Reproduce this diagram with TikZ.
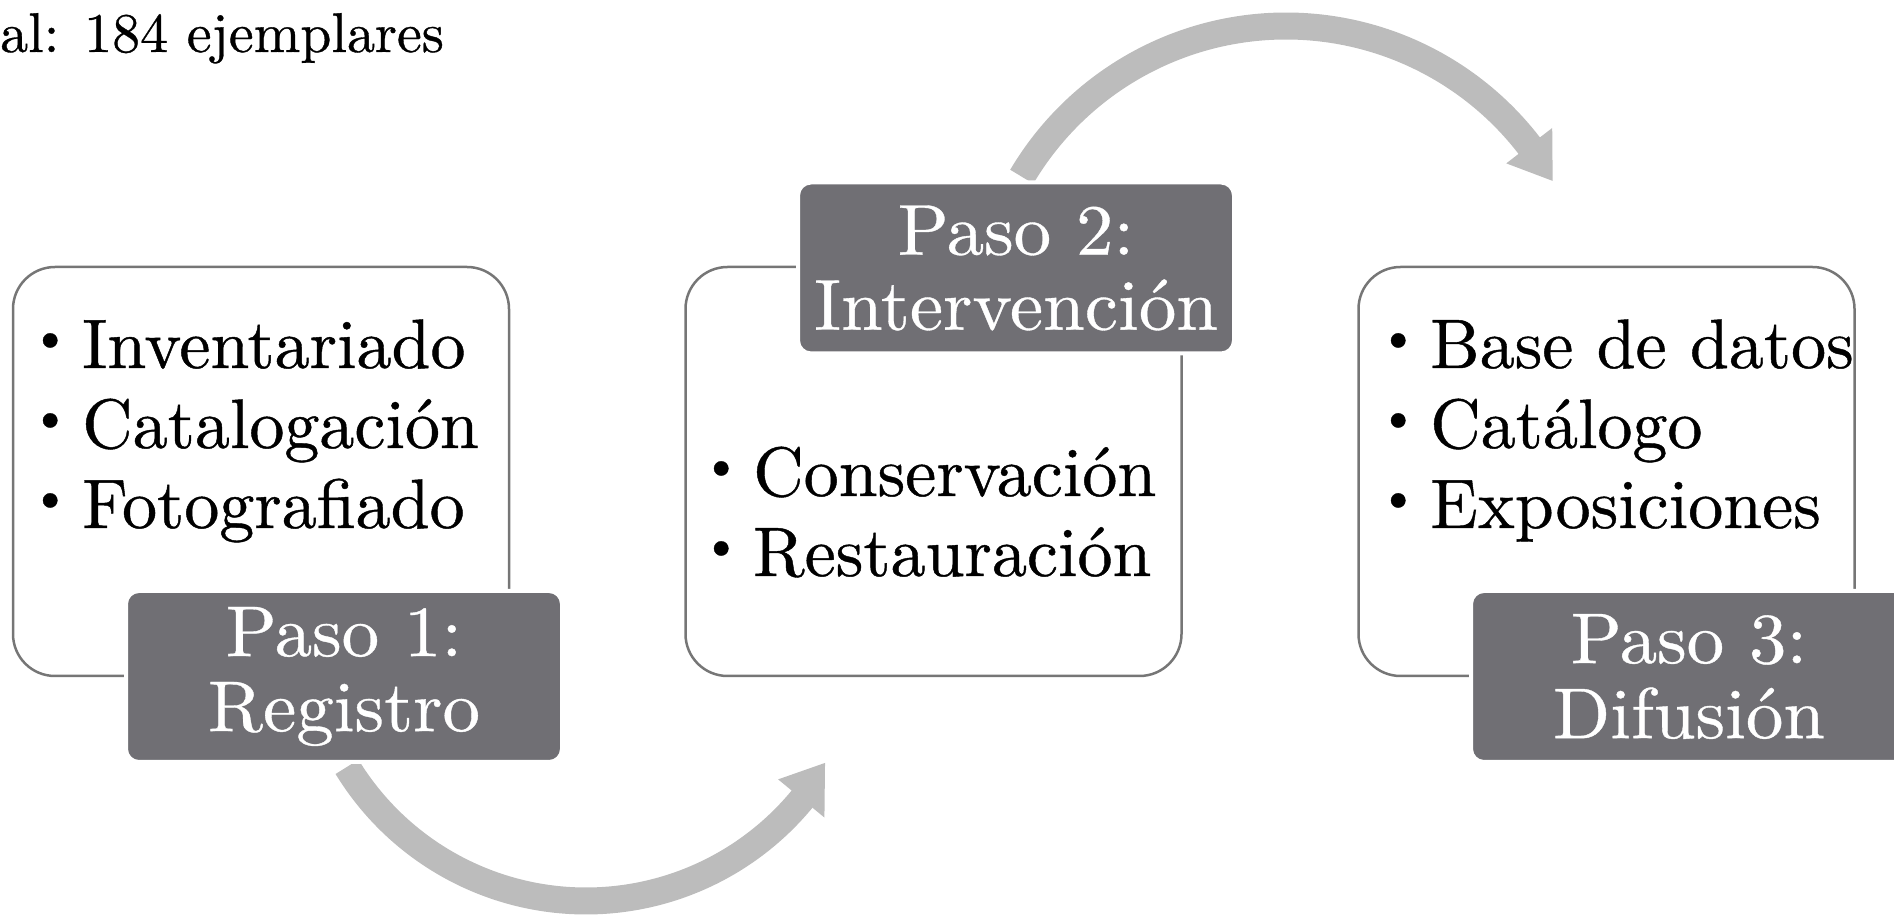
\documentclass[tikz,border=0pt]{standalone}
\usepackage{fontspec}
\newfontfamily\itemfont{lmroman10-regular.otf}[FakeBold=0.6]
\newfontfamily\pasofont{lmroman10-regular.otf}[FakeStretch=1.04,FakeBold=0.5]
\newfontfamily\titlefont{lmroman10-regular.otf}[FakeBold=0.6]
\definecolor{pasofill}{RGB}{112,111,116}
\definecolor{outlinegray}{RGB}{118,118,118}
\definecolor{arrowgray}{RGB}{188,188,188}
\newcommand{\bul}{\makebox[64pt][c]{\raisebox{16pt}{\fontsize{50}{50}\selectfont\textbullet}}}
\begin{document}
\begin{tikzpicture}[x=1pt,y=1pt,
  listbox/.style={draw=outlinegray, line width=2.5pt, rounded corners=42pt, minimum width=496pt, minimum height=409pt, inner sep=0pt},
  pasobox/.style={draw=white, line width=4pt, fill=pasofill, rounded corners=13pt, minimum width=436pt, minimum height=171pt, inner sep=0pt, text=white, align=center, font=\pasofont\fontsize{72}{75}\selectfont},
  item/.style={anchor=base west, inner sep=0pt, font=\itemfont\fontsize{70}{80}\selectfont},
  band/.style={draw=arrowgray, line width=27pt},
  head/.style={fill=arrowgray}]
\useasboundingbox (0,0) rectangle (1894,915);
\clip (0,0) rectangle (1894,915);

\node[anchor=base west, inner sep=0pt, font=\titlefont\fontsize{56}{60}\selectfont] (title) at (0,863) {al: 184 ejemplares};

% arrows
\coordinate (c1) at (586,294);
\coordinate (c2) at (1286,582);
\draw[band] ([shift={(211.4:280)}]c1) arc[start angle=211.4, end angle=321, radius=280];
\fill[head] ([shift={(320.5:249)}]c1) -- ([shift={(329.3:278)}]c1) -- ([shift={(320.5:309)}]c1) -- cycle;
\draw[band] ([shift={(149.4:307)}]c2) arc[start angle=149.4, end angle=37.1, radius=307];
\fill[head] ([shift={(37.6:278)}]c2) -- ([shift={(29.7:307)}]c2) -- ([shift={(37.6:336)}]c2) -- cycle;

% list boxes
\node[listbox] (box1) at (261,443.5) {};
\node[listbox] (box2) at (933.5,443.5) {};
\node[listbox] (box3) at (1606.5,443.5) {};

% items
\node[item] (i11) at (18,547) {\bul Inventariado};
\node[item] (i12) at (18,467) {\bul Catalogación};
\node[item] (i13) at (18,387) {\bul Fotografiado};
\node[item] (i21) at (689,419) {\bul Conservación};
\node[item] (i22) at (689,339) {\bul Restauración};
\node[item] (i31) at (1366,547) {\bul Base de datos};
\node[item] (i32) at (1366,467) {\bul Catálogo};
\node[item] (i33) at (1366,387) {\bul Exposiciones};

% step boxes
\node[pasobox] (p1) at (344,238.5) {Paso 1:\\Registro};
\node[pasobox] (p2) at (1016,647) {Paso 2:\\Intervención};
\node[pasobox] (p3) at (1689,238.5) {Paso 3:\\Difusión};
\end{tikzpicture}
\end{document}
